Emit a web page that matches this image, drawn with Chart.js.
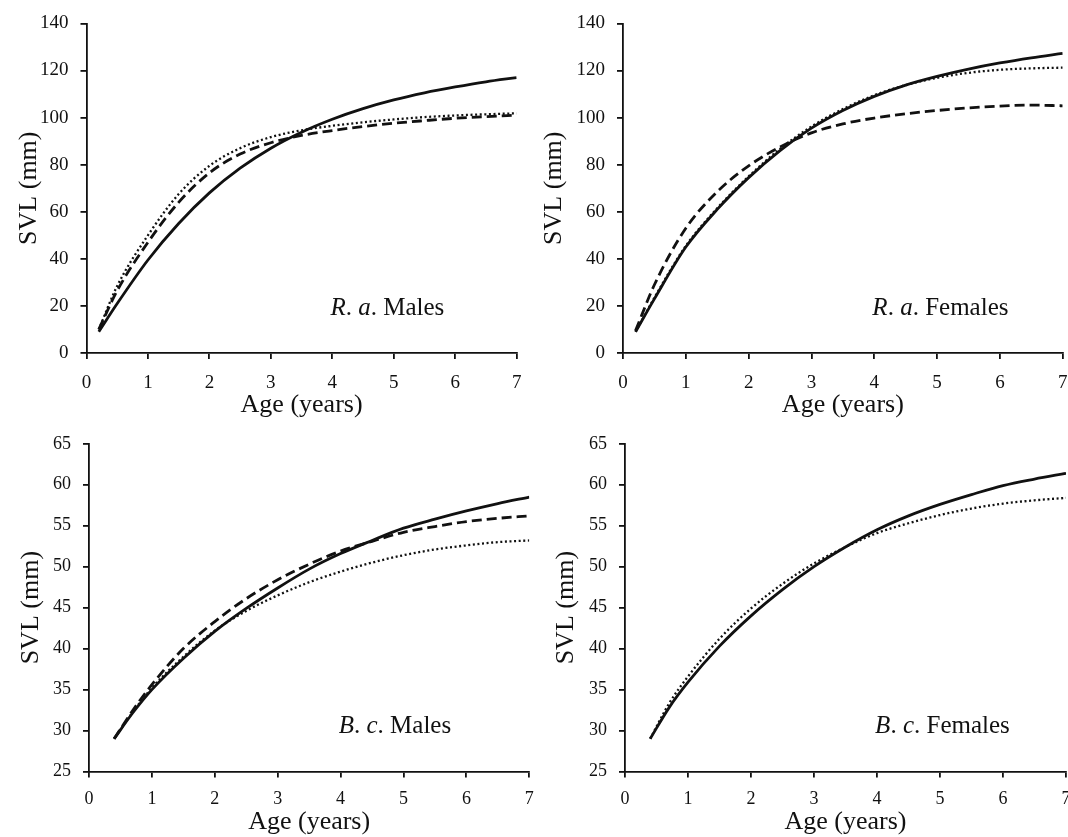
<!DOCTYPE html>
<html>
<head>
<meta charset="utf-8">
<script src="https://cdn.jsdelivr.net/npm/chart.js@4.4.0/dist/chart.umd.min.js"></script>
<style>
html, body { margin: 0; padding: 0; background: #fff; width: 1068px; height: 837px; overflow: hidden; }
canvas { position: absolute; }
</style>
</head>
<body>
<canvas id="raMales"></canvas>
<canvas id="raFemales"></canvas>
<canvas id="bcMales"></canvas>
<canvas id="bcFemales"></canvas>
<script>
// ages (years) at which the curves were read
const agesTop = [0.2, 0.5, 1, 1.5, 2, 2.5, 3, 3.5, 4, 4.5, 5, 5.5, 6, 6.5, 7];
const agesBottom = [0.4, 0.7, 1, 1.5, 2, 2.5, 3, 3.5, 4, 4.5, 5, 5.5, 6, 6.5, 7];

// R. a. Males SVL (mm)
const raMalesSolid  = [9, 21, 39.5, 55, 68, 78.5, 87, 93.8, 99.3, 103.8, 107.5, 110.5, 113, 115.2, 117];
const raMalesDashed = [10, 26.5, 47, 64, 76.5, 84.5, 89.3, 92.4, 94.5, 96.2, 97.6, 98.7, 99.7, 100.4, 101];
const raMalesDotted = [10, 28.5, 50, 67.5, 79.5, 87, 91.7, 94.6, 96.5, 98, 99.2, 100.2, 100.9, 101.4, 101.8];

// R. a. Females
const raFemalesSolid  = [9, 23, 45, 61, 74.5, 86, 95.5, 103, 109, 113.8, 117.5, 120.6, 123.2, 125.4, 127.3];
const raFemalesDashed = [9.5, 29, 53, 68.5, 79.5, 87.5, 93.5, 97.3, 99.8, 101.6, 103, 104.1, 104.9, 105.3, 105];
const raFemalesDotted = [9, 23.5, 45.5, 61.5, 75, 86.7, 96.2, 103.6, 109.5, 113.8, 116.9, 119, 120.3, 120.9, 121.2];

// B. c. Males
const bcMalesSolid  = [29, 32.2, 35, 38.8, 42.1, 44.9, 47.4, 49.7, 51.6, 53.2, 54.7, 55.8, 56.8, 57.7, 58.5];
const bcMalesDashed = [29, 32.5, 35.6, 40, 43.3, 46.1, 48.4, 50.3, 51.9, 53.1, 54.2, 54.9, 55.5, 55.9, 56.2];
const bcMalesDotted = [29, 32.3, 35.2, 39, 42.2, 44.6, 46.5, 48.1, 49.4, 50.5, 51.4, 52.1, 52.6, 53, 53.2];

// B. c. Females
const bcFemalesSolid  = [29, 32.8, 35.9, 40.3, 44, 47.2, 50, 52.4, 54.5, 56.2, 57.6, 58.8, 59.9, 60.7, 61.4];
const bcFemalesDotted = [29, 33.3, 36.6, 41.2, 44.9, 47.9, 50.4, 52.4, 54.1, 55.3, 56.3, 57.1, 57.7, 58.1, 58.4];

// tick values
const xTicks = [0, 1, 2, 3, 4, 5, 6, 7];
const yTicksTop = [0, 20, 40, 60, 80, 100, 120, 140];
const yTicksBottom = [25, 30, 35, 40, 45, 50, 55, 60, 65];

const xTitle = 'Age (years)';
const yTitle = 'SVL (mm)';

const SERIF = '"Liberation Serif", "Times New Roman", serif';
const INK = '#111';

const lineStyles = {
    solid:  { borderWidth: 2.8, borderDash: [] },
    dashed: { borderWidth: 2.8, borderDash: [10, 5] },
    dotted: { borderWidth: 2.3, borderDash: [2, 2.6] }
};

function series(ages, values, style) {
    return {
        data: ages.map((a, i) => ({ x: a, y: values[i] })),
        borderColor: INK,
        borderWidth: lineStyles[style].borderWidth,
        borderDash: lineStyles[style].borderDash,
        pointRadius: 0,
        fill: false,
        cubicInterpolationMode: 'monotone'
    };
}

const notePlugin = {
    id: 'note',
    afterDatasetsDraw(chart, args, opts) {
        const { ctx } = chart;
        const xs = chart.scales.x, ys = chart.scales.y;
        let px = xs.getPixelForValue(opts.x);
        const py = ys.getPixelForValue(opts.y);
        ctx.save();
        ctx.fillStyle = INK;
        ctx.textBaseline = 'alphabetic';
        ctx.textAlign = 'left';
        opts.parts.forEach(([txt, italic]) => {
            ctx.font = (italic ? 'italic ' : '') + '25px ' + SERIF;
            ctx.fillText(txt, px, py);
            px += ctx.measureText(txt).width;
        });
        ctx.restore();
    }
};

// canvas placement and axis box sizes per panel
const panels = [
    { id: 'raMales', left: 0, top: 0, w: 534, h: 421, yW: 86.5, padTop: 20.7, padRight: 8.5, xH: 68, yTitlePad: 13.4,
      tickSize: 19, xTickPad: 12.6, yMin: 0, yMax: 140, yTicks: yTicksTop, noteY: 16,
      parts: [['R', 1], ['. ', 0], ['a', 1], ['. Males', 0]],
      sets: [series(agesTop, raMalesSolid, 'solid'), series(agesTop, raMalesDashed, 'dashed'), series(agesTop, raMalesDotted, 'dotted')] },
    { id: 'raFemales', left: 534, top: 0, w: 560, h: 421, yW: 89, padTop: 20.7, padRight: 31.3, xH: 68, yTitlePad: 4.4,
      tickSize: 19, xTickPad: 12.6, yMin: 0, yMax: 140, yTicks: yTicksTop, noteY: 16,
      parts: [['R', 1], ['. ', 0], ['a', 1], ['. Females', 0]],
      sets: [series(agesTop, raFemalesSolid, 'solid'), series(agesTop, raFemalesDashed, 'dashed'), series(agesTop, raFemalesDotted, 'dotted')] },
    { id: 'bcMales', left: 0, top: 421, w: 545, h: 417, yW: 89, padTop: 19, padRight: 15, xH: 66.5, yTitlePad: 15.8,
      tickSize: 18, xTickPad: 11.2, yMin: 25, yMax: 65, yTicks: yTicksBottom, noteY: 29.7,
      parts: [['B', 1], ['. ', 0], ['c', 1], ['. Males', 0]],
      sets: [series(agesBottom, bcMalesSolid, 'solid'), series(agesBottom, bcMalesDashed, 'dashed'), series(agesBottom, bcMalesDotted, 'dotted')] },
    { id: 'bcFemales', left: 534, top: 421, w: 560, h: 417, yW: 91, padTop: 19, padRight: 28, xH: 66.5, yTitlePad: 16.4,
      tickSize: 18, xTickPad: 11.2, yMin: 25, yMax: 65, yTicks: yTicksBottom, noteY: 29.7,
      parts: [['B', 1], ['. ', 0], ['c', 1], ['. Females', 0]],
      sets: [series(agesBottom, bcFemalesSolid, 'solid'), series(agesBottom, bcFemalesDotted, 'dotted')] }
];

panels.forEach(p => {
    const canvas = document.getElementById(p.id);
    canvas.style.left = p.left + 'px';
    canvas.style.top = p.top + 'px';
    canvas.width = p.w;
    canvas.height = p.h;
    canvas.style.width = p.w + 'px';
    canvas.style.height = p.h + 'px';

    const axisCommon = {
        border: { display: true, color: INK, width: 1.8 },
        grid: { display: true, drawOnChartArea: false, drawTicks: true, tickLength: 6, color: INK, lineWidth: 1.8 }
    };

    new Chart(canvas.getContext('2d'), {
        type: 'line',
        data: { datasets: p.sets },
        plugins: [notePlugin],
        options: {
            responsive: false,
            animation: false,
            devicePixelRatio: 1,
            layout: { padding: { left: 0, top: p.padTop, right: p.padRight, bottom: 0 } },
            plugins: {
                legend: { display: false },
                tooltip: { enabled: false },
                note: { x: 3.97, y: p.noteY, parts: p.parts }
            },
            scales: {
                x: {
                    ...axisCommon,
                    type: 'linear',
                    min: 0,
                    max: 7,
                    afterBuildTicks: s => { s.ticks = xTicks.map(v => ({ value: v })); },
                    afterFit: s => { s.height = p.xH; },
                    ticks: { autoSkip: false, maxRotation: 0, padding: p.xTickPad, color: INK, font: { family: SERIF, size: p.tickSize } },
                    title: { display: true, text: xTitle, color: INK, padding: 0, font: { family: SERIF, size: 26 } }
                },
                y: {
                    ...axisCommon,
                    type: 'linear',
                    min: p.yMin,
                    max: p.yMax,
                    afterBuildTicks: s => { s.ticks = p.yTicks.map(v => ({ value: v })); },
                    afterFit: s => { s.width = p.yW; },
                    ticks: { autoSkip: false, padding: 12, color: INK, font: { family: SERIF, size: p.tickSize } },
                    title: { display: true, text: yTitle, color: INK, padding: { top: p.yTitlePad, bottom: 0 }, font: { family: SERIF, size: 26 } }
                }
            }
        }
    });
});
</script>
</body>
</html>
